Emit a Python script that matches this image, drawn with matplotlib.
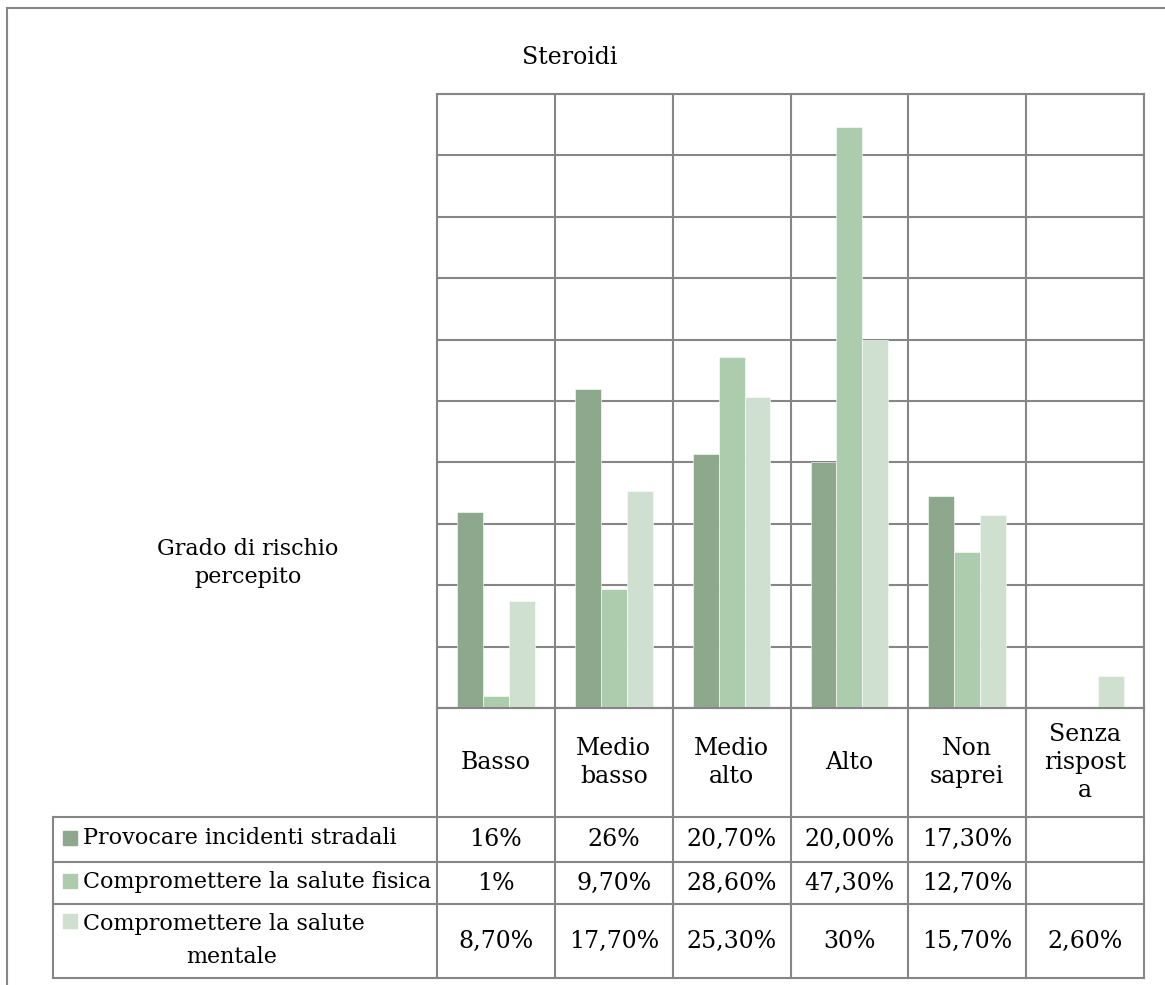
import numpy as np
import matplotlib.pyplot as plt
from matplotlib.patches import Rectangle

# Dati
categorie = ['Basso', 'Medio\nbasso', 'Medio\nalto', 'Alto', 'Non\nsaprei', 'Senza\nrispost\na']
serie = ['Provocare incidenti stradali',
         'Compromettere la salute fisica',
         'Compromettere la salute\nmentale']
incidenti = [16, 26, 20.7, 20.0, 17.3, np.nan]
fisica = [1, 9.7, 28.6, 47.3, 12.7, np.nan]
mentale = [8.7, 17.7, 25.3, 30, 15.7, 2.6]
etichette_incidenti = ['16%', '26%', '20,70%', '20,00%', '17,30%', '']
etichette_fisica = ['1%', '9,70%', '28,60%', '47,30%', '12,70%', '']
etichette_mentale = ['8,70%', '17,70%', '25,30%', '30%', '15,70%', '2,60%']

colori = ['#8ea88e', '#adcbad', '#cfe0d1']
grigio = '#868686'
plt.rcParams['font.family'] = ['DejaVu Serif']
fs = 17
fs_leg = 16

W, H = 1165, 985
fig = plt.figure(figsize=(W / 100, H / 100), dpi=100)

# area del grafico (pixel)
x0, x1 = 437, 1144
y_top, y_bot = 94, 708
ax = fig.add_axes([x0 / W, 1 - y_bot / H, (x1 - x0) / W, (y_bot - y_top) / H])

x = np.arange(len(categorie))
w = 0.22
for i, (vals, col) in enumerate(zip([incidenti, fisica, mentale], colori)):
    ax.bar(x + (i - 1) * w, vals, width=w, color=col, edgecolor='white',
           linewidth=0.4, zorder=3)

ax.set_xlim(-0.5, len(categorie) - 0.5)
ax.set_ylim(0, 50)
ax.set_yticks(np.arange(0, 51, 5))
ax.set_xticks(np.arange(-0.5, len(categorie), 1))
ax.grid(True, color=grigio, linewidth=1.5, zorder=0)
ax.tick_params(length=0, labelbottom=False, labelleft=False)
for s in ax.spines.values():
    s.set_color(grigio)
    s.set_linewidth(1.5)

# sovrapposizione in coordinate pixel per tabella e testi
ov = fig.add_axes([0, 0, 1, 1], zorder=5)
ov.set_xlim(0, W)
ov.set_ylim(H, 0)
ov.axis('off')
ov.patch.set_alpha(0)

# bordo esterno (solo sinistra e sopra)
ov.plot([7, 7], [8, H], color=grigio, lw=1.5)
ov.plot([7, W], [8, 8], color=grigio, lw=1.5)

ov.text(570, 57, 'Steroidi', ha='center', va='center', fontsize=fs)
ov.text(248, 563, 'Grado di rischio\npercepito', ha='center', va='center',
        fontsize=fs_leg, linespacing=1.35)

# tabella dati
righe = [708, 817, 862, 904, 978]
x_tab = 53
bordi = np.linspace(x0, x1, len(categorie) + 1)
for xb in bordi:
    ov.plot([xb, xb], [y_bot, righe[-1]], color=grigio, lw=1.5)
ov.plot([x_tab, x_tab], [righe[1], righe[-1]], color=grigio, lw=1.5)
ov.plot([x0, x1], [righe[0], righe[0]], color=grigio, lw=1.5)
for yr in righe[1:]:
    ov.plot([x_tab, x1], [yr, yr], color=grigio, lw=1.5)

centri = (bordi[:-1] + bordi[1:]) / 2
for c, cat in zip(centri, categorie):
    ov.text(c, (righe[0] + righe[1]) / 2, cat, ha='center', va='center',
            fontsize=fs, linespacing=1.3)

for r, (nome, etich, col) in enumerate(zip(serie,
                                           [etichette_incidenti, etichette_fisica, etichette_mentale],
                                           colori)):
    ya, yb = righe[r + 1], righe[r + 2]
    ym = (ya + yb) / 2
    for c, t in zip(centri, etich):
        ov.text(c, ym, t, ha='center', va='center', fontsize=fs)
    if '\n' in nome:
        prima, seconda = nome.split('\n')
        ov.add_patch(Rectangle((63, ya + 10), 14, 14, color=col))
        ov.text(83, ya + 20, prima, ha='left', va='center', fontsize=fs_leg)
        ov.text(232, ya + 53, seconda, ha='center', va='center', fontsize=fs_leg)
    else:
        ov.add_patch(Rectangle((63, ym - 9), 14, 14, color=col))
        ov.text(83, ym - 1, nome, ha='left', va='center', fontsize=fs_leg)

fig.savefig('out.png', dpi=100)
